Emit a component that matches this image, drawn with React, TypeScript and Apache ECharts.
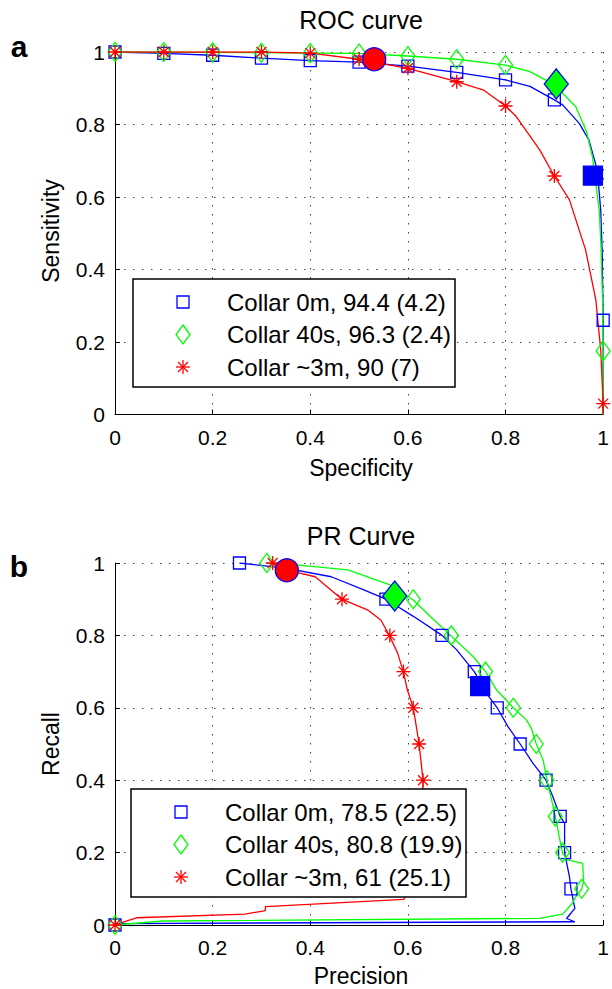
import React, { useEffect, useRef } from 'react';
import * as echarts from 'echarts';

const FONT = '"Liberation Sans", Arial, Helvetica, sans-serif';
const BLUE = '#0000ff';
const GREEN = '#00ff00';
const RED = '#ff0000';

// ---------- ROC (x = specificity, y = sensitivity) ----------
const rocSpecificity = [0, 0.1, 0.2, 0.3, 0.4, 0.5, 0.6, 0.7, 0.8, 0.9, 1];
const rocSens0m = [1, 0.996, 0.991, 0.983, 0.976, 0.972, 0.961, 0.944, 0.923, 0.868, 0.26];
const rocSens40s = [1, 1, 0.999, 0.998, 0.997, 0.996, 0.989, 0.98, 0.964, 0.91, 0.175];
const rocSens3m = [1, 1, 1, 1, 0.997, 0.98, 0.955, 0.918, 0.851, 0.658, 0.03];

const rocCurve0m: number[][] = [
  [0, 1], [0.1, 0.996], [0.2, 0.991], [0.3, 0.983], [0.4, 0.976], [0.5, 0.972], [0.6, 0.961],
  [0.7, 0.944], [0.8, 0.923], [0.85, 0.905], [0.9, 0.868], [0.917, 0.854], [0.951, 0.803],
  [0.971, 0.757], [0.988, 0.674], [0.995, 0.564], [0.998, 0.45], [1, 0.26], [1, 0],
];
const rocCurve40s: number[][] = [
  [0, 1], [0.1, 1], [0.2, 0.999], [0.3, 0.998], [0.4, 0.997], [0.5, 0.996], [0.6, 0.989],
  [0.7, 0.98], [0.8, 0.964], [0.85, 0.946], [0.9, 0.91], [0.944, 0.849], [0.966, 0.78],
  [0.978, 0.711], [0.992, 0.564], [0.996, 0.45], [0.999, 0.3], [1, 0.175], [1, 0],
];
const rocCurve3m: number[][] = [
  [0, 1], [0.1, 1], [0.2, 1], [0.3, 1], [0.4, 0.997], [0.5, 0.98], [0.6, 0.955], [0.7, 0.918],
  [0.755, 0.895], [0.8, 0.851], [0.822, 0.822], [0.87, 0.73], [0.9, 0.658], [0.931, 0.592],
  [0.964, 0.454], [0.985, 0.316], [0.995, 0.178], [1, 0.03], [1, 0],
];
const rocOp0m = [0.979, 0.659];
const rocOp40s = [0.904, 0.912];
const rocOp3m = [0.531, 0.98];

// ---------- PR (x = precision, y = recall) ----------
const prRecall = [1, 0.9, 0.8, 0.7, 0.6, 0.5, 0.4, 0.3, 0.2, 0.1, 0];
const prPrec0m = [0.255, 0.555, 0.67, 0.736, 0.783, 0.83, 0.883, 0.912, 0.921, 0.934, 0];
const prPrec40s = [0.311, 0.611, 0.689, 0.759, 0.816, 0.863, 0.885, 0.902, 0.917, 0.956, 0];
const prRecall3m = [1, 0.9, 0.8, 0.7, 0.6, 0.5, 0.4, 0];
const prPrec3m = [0.323, 0.465, 0.563, 0.591, 0.611, 0.623, 0.631, 0];

const prCurve0m: number[][] = [
  [0.255, 1], [0.352, 0.985], [0.443, 0.962], [0.511, 0.925], [0.555, 0.9], [0.612, 0.852],
  [0.67, 0.8], [0.7, 0.76], [0.736, 0.7], [0.761, 0.64], [0.783, 0.6], [0.805, 0.548],
  [0.83, 0.5], [0.856, 0.447], [0.883, 0.4], [0.897, 0.354], [0.912, 0.3], [0.921, 0.281],
  [0.921, 0.2], [0.931, 0.133], [0.934, 0.1], [0.942, 0.046], [0.925, 0.018], [0.942, 0.009],
  [0, 0.004],
];
const prCurve40s: number[][] = [
  [0.311, 1], [0.376, 0.994], [0.477, 0.981], [0.565, 0.939], [0.611, 0.898], [0.646, 0.852],
  [0.689, 0.798], [0.734, 0.741], [0.759, 0.7], [0.782, 0.649], [0.816, 0.6], [0.843, 0.566],
  [0.853, 0.543], [0.863, 0.5], [0.877, 0.456], [0.885, 0.399], [0.893, 0.354], [0.902, 0.3],
  [0.91, 0.244], [0.917, 0.198], [0.927, 0.18], [0.958, 0.17], [0.96, 0.12], [0.956, 0.099],
  [0.944, 0.078], [0.937, 0.06], [0.917, 0.03], [0.87, 0.0185], [0.098, 0.011], [0, 0],
];
const prCurve3m: number[][] = [
  [0.323, 1], [0.352, 0.98], [0.41, 0.962], [0.443, 0.925], [0.465, 0.9], [0.518, 0.87],
  [0.545, 0.842], [0.563, 0.797], [0.579, 0.751], [0.591, 0.698], [0.599, 0.649], [0.611, 0.6],
  [0.617, 0.55], [0.623, 0.5], [0.631, 0.4], [0.63, 0.3], [0.615, 0.2], [0.6, 0.1],
  [0.592, 0.071], [0.308, 0.051], [0.308, 0.04], [0.267, 0.03], [0.044, 0.02], [0.01, 0.005],
  [0, 0],
];
const prOp0m = [0.748, 0.66];
const prOp40s = [0.573, 0.909];
const prOp3m = [0.352, 0.98];

const legendROC = ['Collar 0m, 94.4 (4.2)', 'Collar 40s, 96.3 (2.4)', 'Collar ~3m, 90 (7)'];
const legendPR = ['Collar 0m, 78.5 (22.5)', 'Collar 40s, 80.8 (19.9)', 'Collar ~3m, 61 (25.1)'];

const STAR = 'path://M0 7L14 7M7 0L7 14M2 2L12 12M12 2L2 12';

function zip(xs: number[], ys: number[]) {
  return xs.map((x, i) => [x, ys[i]]);
}

function axisX(gi: number) {
  return {
    type: 'value', gridIndex: gi, min: 0, max: 1, interval: 0.2,
    axisLine: { show: true, onZero: false, lineStyle: { color: '#000', width: 1 } },
    axisTick: { show: true, inside: true, length: 5, lineStyle: { color: '#000' } },
    axisLabel: { color: '#000', fontSize: 21, fontFamily: FONT, margin: 12 },
    splitLine: { show: true, lineStyle: { color: '#444', type: [1.5, 7.5], width: 1 } },
  };
}
function axisY(gi: number) {
  return {
    type: 'value', gridIndex: gi, min: 0, max: 1, interval: 0.2,
    axisLine: { show: true, onZero: false, lineStyle: { color: '#000', width: 1 } },
    axisTick: { show: true, inside: true, length: 5, lineStyle: { color: '#000' } },
    axisLabel: { color: '#000', fontSize: 21, fontFamily: FONT, margin: 10 },
    splitLine: { show: true, lineStyle: { color: '#444', type: [1.5, 7.5], width: 1 } },
  };
}

function lineS(name: string, gi: number, data: number[][], color: string) {
  return {
    name, type: 'line', xAxisIndex: gi, yAxisIndex: gi, data, showSymbol: false, symbol: 'none',
    lineStyle: { color, width: 1.3 }, itemStyle: { color }, z: 2, silent: true,
  };
}
function markS(name: string, gi: number, data: number[][], symbol: string, size: any, color: string, filled = false, z = 3) {
  return {
    name, type: 'scatter', xAxisIndex: gi, yAxisIndex: gi, data, symbol, symbolSize: size, clip: false,
    itemStyle: filled
      ? { color, borderColor: BLUE, borderWidth: 1.3, opacity: 1 }
      : { color: 'transparent', borderColor: color, borderWidth: 1.3, opacity: 1 },
    z, silent: true,
  };
}

function text(x: number, y: number, t: string, size: number, extra: any = {}) {
  return {
    type: 'text', x, y, z: 110, ...extra,
    style: {
      text: t, fill: '#000', fontSize: size, fontFamily: FONT, fontWeight: extra.bold ? 'bold' : 'normal',
      textAlign: extra.align || 'center', textVerticalAlign: 'middle',
      align: extra.align || 'center', verticalAlign: 'middle',
    },
  };
}

function legendBox(x: number, y: number, w: number, h: number, labels: string[]) {
  const els: any[] = [
    { type: 'rect', z: 100, shape: { x, y, width: w, height: h }, style: { fill: '#fff', stroke: '#000', lineWidth: 1.5 } },
  ];
  const mx = x + 50;
  const tx = x + 94;
  labels.forEach((lab, i) => {
    const ry = y + 23 + i * 32.5;
    if (i === 0) {
      els.push({ type: 'rect', z: 105, shape: { x: mx - 6, y: ry - 6, width: 12, height: 12 }, style: { fill: 'none', stroke: BLUE, lineWidth: 1.3 } });
    } else if (i === 1) {
      els.push({ type: 'polygon', z: 105, shape: { points: [[mx, ry - 9.5], [mx + 7, ry], [mx, ry + 9.5], [mx - 7, ry]] }, style: { fill: 'none', stroke: GREEN, lineWidth: 1.3 } });
    } else {
      const r = 7, d = 5;
      [[-r, 0, r, 0], [0, -r, 0, r], [-d, -d, d, d], [d, -d, -d, d]].forEach((s) => {
        els.push({ type: 'line', z: 105, shape: { x1: mx + s[0], y1: ry + s[1], x2: mx + s[2], y2: ry + s[3] }, style: { stroke: RED, lineWidth: 1.3 } });
      });
    }
    els.push(text(tx, ry, lab, 24, { align: 'left' }));
  });
  return els;
}

export default function App() {
  const ref = useRef<HTMLDivElement>(null);
  useEffect(() => {
    if (!ref.current) return;
    const chart = echarts.init(ref.current, null, { renderer: 'svg' });
    const option: any = {
      animation: false,
      backgroundColor: '#fff',
      grid: [
        { left: 115, top: 52, width: 492.5, height: 362.5 },
        { left: 115, top: 563, width: 492.5, height: 362 },
      ],
      xAxis: [axisX(0), axisX(1)],
      yAxis: [axisY(0), axisY(1)],
      series: [
        lineS('ROC 0m', 0, rocCurve0m, BLUE),
        markS('ROC 0m markers', 0, zip(rocSpecificity, rocSens0m), 'rect', 12, BLUE),
        lineS('ROC 40s', 0, rocCurve40s, GREEN),
        markS('ROC 40s markers', 0, zip(rocSpecificity, rocSens40s), 'diamond', [14, 19], GREEN),
        lineS('ROC 3m', 0, rocCurve3m, RED),
        markS('ROC 3m markers', 0, zip(rocSpecificity, rocSens3m), STAR, 14, RED),
        markS('ROC op 3m', 0, [rocOp3m], 'circle', 23, RED, true, 5),
        markS('ROC op 40s', 0, [rocOp40s], 'diamond', [24, 30], GREEN, true, 5),
        markS('ROC op 0m', 0, [rocOp0m], 'rect', 19, BLUE, true, 5),

        lineS('PR 0m', 1, prCurve0m, BLUE),
        markS('PR 0m markers', 1, zip(prPrec0m, prRecall), 'rect', 12, BLUE),
        lineS('PR 40s', 1, prCurve40s, GREEN),
        markS('PR 40s markers', 1, zip(prPrec40s, prRecall), 'diamond', [14, 19], GREEN),
        lineS('PR 3m', 1, prCurve3m, RED),
        markS('PR 3m markers', 1, zip(prPrec3m, prRecall3m), STAR, 14, RED),
        markS('PR op 3m', 1, [prOp3m], 'circle', 23, RED, true, 5),
        markS('PR op 40s', 1, [prOp40s], 'diamond', [24, 30], GREEN, true, 5),
        markS('PR op 0m', 1, [prOp0m], 'rect', 19, BLUE, true, 5),
      ],
      graphic: [
        text(361, 20, 'ROC curve', 25),
        text(361, 536, 'PR Curve', 25),
        text(19, 46, 'a', 30, { bold: true }),
        text(19, 566, 'b', 30, { bold: true }),
        text(361, 468, 'Specificity', 23),
        text(361, 976, 'Precision', 23),
        text(51, 231, 'Sensitivity', 23, { rotation: Math.PI / 2 }),
        text(51, 744, 'Recall', 23, { rotation: Math.PI / 2 }),
        ...legendBox(133, 279, 322, 108, legendROC),
        ...legendBox(131, 789, 335, 108, legendPR),
      ],
    };
    chart.setOption(option);
    return () => chart.dispose();
  }, []);
  return (
    <div
      ref={ref}
      style={{ position: 'absolute', left: 0, top: 0, width: 612, height: 989, background: '#fff' }}
    />
  );
}
